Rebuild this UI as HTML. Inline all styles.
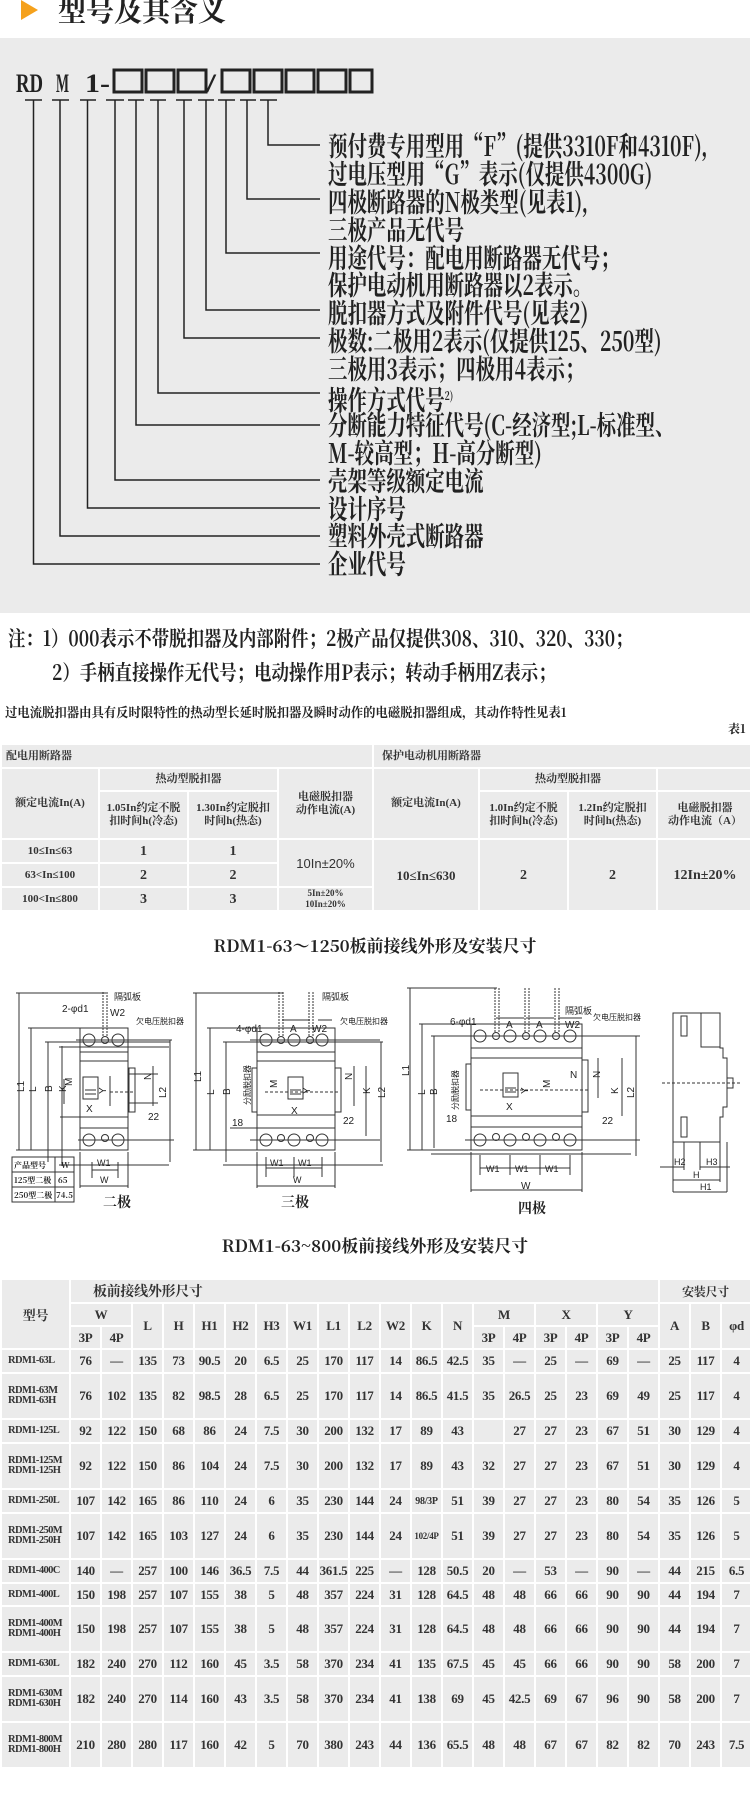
<!DOCTYPE html>
<html><head><meta charset="utf-8">
<style>
*{margin:0;padding:0;box-sizing:border-box}
body{width:750px;height:1816px;position:relative;background:#fff;overflow:hidden;font-family:"Liberation Serif","Noto Serif CJK SC",serif;color:#222}
.abs{position:absolute}
.cond{transform-origin:left top;white-space:nowrap}
.desc div{height:27.9px;line-height:27.9px}
table{border-collapse:collapse;position:absolute;left:0;table-layout:fixed}
td{background:#ebebeb;border:2px solid #fff;text-align:center;vertical-align:middle;font-weight:bold;padding:0;overflow:hidden}
.t1 td{font-size:11px;line-height:13px;color:#333}
.t2 td{font-size:13px;color:#333;letter-spacing:-0.3px}
.t2 td.m{font-size:10.5px;line-height:10px;text-align:left;padding-left:6px;letter-spacing:-0.6px}
</style></head><body>
<!-- header -->
<div class="abs" style="left:21px;top:0;width:0;height:0;border-left:17px solid #f5a11c;border-top:10px solid transparent;border-bottom:10px solid transparent;top:0"></div>
<div class="abs" style="left:58px;top:-10px;font:bold 28px 'Noto Serif CJK SC',serif;color:#222">型号及其含义</div>
<div class="abs" style="left:0;top:38px;width:750px;height:575px;background:#ebebeb"></div>

<!-- code line -->
<svg class="abs" style="left:0;top:0" width="750" height="613">
<g font-family="Liberation Serif" font-weight="bold" font-size="26" fill="#222">
<text x="16" y="92" textLength="27" lengthAdjust="spacingAndGlyphs">RD</text>
<text x="56" y="92" textLength="13" lengthAdjust="spacingAndGlyphs">M</text>
<text x="85" y="92" textLength="25" lengthAdjust="spacingAndGlyphs">1-</text>
<text x="206" y="92" textLength="10" lengthAdjust="spacingAndGlyphs">/</text>
</g>
<g fill="none" stroke="#222" stroke-width="3">
<rect x="114" y="70" width="28" height="22"/><rect x="146" y="70" width="28" height="22"/><rect x="178" y="70" width="28" height="22"/>
<rect x="222" y="70" width="28" height="22"/><rect x="254" y="70" width="28" height="22"/><rect x="286" y="70" width="28" height="22"/><rect x="318" y="70" width="28" height="22"/><rect x="350" y="70" width="22" height="22"/>
</g>
<g stroke="#222" stroke-width="1.5" fill="none">
<path d="M25 100h17M52 100h17M80 100h16M106 100h18M128 100h16M150 100h16M176 100h16M198 100h16M218 100h17M240 100h16M260 100h17"/>
<path d="M268 100V145H320M247 100V199H320M226 100V253H320M206 100V310H320M184 100V338H320M158 100V393H320M136 100V425H320M115 100V480H320M87.5 100V508H320M60 100V536H320M33.5 100V564H320"/>
</g>
</svg>
<div class="abs cond desc" style="left:328px;top:131px;font:bold 27px 'Noto Serif CJK SC',serif;color:#222;transform:scaleX(0.72)">
<div>预付费专用型用“F”(提供3310F和4310F),</div>
<div>过电压型用“G”表示(仅提供4300G)</div>
<div>四极断路器的N极类型(见表1),</div>
<div>三极产品无代号</div>
<div>用途代号：配电用断路器无代号；</div>
<div>保护电动机用断路器以2表示。</div>
<div>脱扣器方式及附件代号(见表2)</div>
<div>极数:二极用2表示(仅提供125、250型)</div>
<div>三极用3表示；四极用4表示；</div>
<div>操作方式代号<sup style="font-size:12px">2)</sup></div>
<div>分断能力特征代号(C-经济型;L-标准型、</div>
<div>M-较高型；H-高分断型)</div>
<div>壳架等级额定电流</div>
<div>设计序号</div>
<div>塑料外壳式断路器</div>
<div>企业代号</div>
</div>

<!-- notes -->
<div class="abs cond" style="left:8px;top:623px;font:bold 21px 'Noto Serif CJK SC',serif;transform:scaleX(0.83)">注：1）000表示不带脱扣器及内部附件；2极产品仅提供308、310、320、330；</div>
<div class="abs cond" style="left:52px;top:657px;font:bold 21px 'Noto Serif CJK SC',serif;transform:scaleX(0.83)">2）手柄直接操作无代号；电动操作用P表示；转动手柄用Z表示；</div>
<div class="abs cond" style="left:5px;top:702px;font:bold 13px 'Noto Serif CJK SC',serif;transform:scaleX(0.95)">过电流脱扣器由具有反时限特性的热动型长延时脱扣器及瞬时动作的电磁脱扣器组成，其动作特性见表1</div>
<div class="abs" style="left:728px;top:720px;font:bold 12px 'Noto Serif CJK SC',serif">表1</div>

<table class="t1" style="top:743px;width:752px">
<colgroup><col style="width:98px"><col style="width:89px"><col style="width:90px"><col style="width:95px"><col style="width:106px"><col style="width:89px"><col style="width:89px"><col style="width:96px"></colgroup>
<tr style="height:24px"><td colspan="4" style="text-align:left;padding-left:4px">配电用断路器</td><td colspan="4" style="text-align:left;padding-left:8px">保护电动机用断路器</td></tr>
<tr style="height:23px"><td rowspan="2">额定电流In(A)</td><td colspan="2">热动型脱扣器</td><td rowspan="2">电磁脱扣器<br>动作电流(A)</td><td rowspan="2">额定电流In(A)</td><td colspan="2">热动型脱扣器</td><td></td></tr>
<tr style="height:48px"><td>1.05In约定不脱<br>扣时间h(冷态)</td><td>1.30In约定脱扣<br>时间h(热态)</td><td>1.0In约定不脱<br>扣时间h(冷态)</td><td>1.2In约定脱扣<br>时间h(热态)</td><td>电磁脱扣器<br>动作电流（A）</td></tr>
<tr style="height:24px"><td>10≤In≤63</td><td style="font-size:14px">1</td><td style="font-size:14px">1</td><td rowspan="2" style="font:13px 'Liberation Sans',sans-serif">10In±20%</td><td rowspan="3" style="font-size:13px">10≤In≤630</td><td rowspan="3" style="font-size:14px">2</td><td rowspan="3" style="font-size:14px">2</td><td rowspan="3" style="font-size:14px">12In±20%</td></tr>
<tr style="height:24px"><td>63&lt;In≤100</td><td style="font-size:14px">2</td><td style="font-size:14px">2</td></tr>
<tr style="height:24px"><td>100&lt;In≤800</td><td style="font-size:14px">3</td><td style="font-size:14px">3</td><td style="font-size:9px;line-height:11px">5In±20%<br>10In±20%</td></tr>
</table>

<div class="abs" style="left:0;width:750px;top:932px;text-align:center;font:bold 17px 'Noto Serif CJK SC',serif">RDM1-63～1250板前接线外形及安装尺寸</div>

<!-- drawings -->
<svg class="abs" style="left:0;top:0" width="750" height="1240" font-family="Liberation Sans,Noto Sans CJK SC,sans-serif" font-size="10" fill="#222">
<g stroke="#333" stroke-width="1" fill="none">
<!-- 2 pole -->
<rect x="80" y="1028" width="48" height="122"/>
<path d="M80 1052h48M80 1061h48M80 1117h48M80 1128h48"/>
<circle cx="89" cy="1040" r="6"/><circle cx="118" cy="1040" r="6"/><circle cx="105" cy="1040" r="3.5"/>
<circle cx="89" cy="1140" r="6"/><circle cx="118" cy="1140" r="6"/><circle cx="105" cy="1138" r="3.5"/>
<rect x="83" y="1077" width="15" height="22"/><path d="M85 1090h11M85 1094h11"/>
<rect x="129" y="1068" width="6" height="44"/>
<path d="M103 992v44M107 992v44" stroke-dasharray="2,1"/>
<path d="M19 993v157M31 1028v122M48 1042v120M62 1046v120M170 1040v122M153 1066v40M16 993h90M28 1028h52M45 1042h125M59 1047h110M59 1165h110M16 1150h64M76 1040h96M78 1140h96M60 1117h20M64 1104v-25M110 1076v30M128 1074h30M128 1103h30M92 1162v16M118 1162v16M92 1170h26M80 1152v36M128 1152v36M80 1186h48"/>
<path d="M110 1092h25" stroke-dasharray="3,2"/>
<!-- 3 pole -->
<rect x="257" y="1028" width="78" height="122"/>
<path d="M257 1052h78M257 1061h78M257 1115h78M257 1128h78"/>
<circle cx="266" cy="1040" r="6"/><circle cx="294" cy="1040" r="6"/><circle cx="322" cy="1040" r="6"/><circle cx="281" cy="1040" r="3.5"/><circle cx="310" cy="1040" r="3.5"/>
<circle cx="266" cy="1140" r="6"/><circle cx="294" cy="1140" r="6"/><circle cx="322" cy="1140" r="6"/><circle cx="281" cy="1138" r="3.5"/><circle cx="310" cy="1138" r="3.5"/>
<rect x="288" y="1077" width="15" height="22"/><path d="M290 1090h11M290 1094h11"/>
<rect x="335" y="1068" width="6" height="44"/><rect x="252" y="1068" width="5" height="44"/>
<path d="M279 992v44M283 992v44M309 992v44M313 992v44" stroke-dasharray="2,1"/>
<path d="M196 993v157M210 1028v122M226 1042v120M193 993h90M207 1028h50M223 1042h160M223 1165h160M193 1150h64M250 1040h130M250 1140h130M381 1042v120M366 1066v70M354 1066v40M282 1020h28M318 1020h14M266 1157v20M294 1157v20M322 1157v20M266 1168h56M257 1152v36M335 1152v36M257 1186h78M230 1128h27"/>
<path d="M265 1092h75" stroke-dasharray="3,2"/>
<!-- 4 pole -->
<rect x="471" y="1024" width="111" height="126"/>
<path d="M471 1048h111M471 1058h111M471 1116h111M471 1127h111"/>
<circle cx="480" cy="1036" r="6"/><circle cx="510" cy="1036" r="6"/><circle cx="540" cy="1036" r="6"/><circle cx="570" cy="1036" r="6"/>
<circle cx="496" cy="1036" r="3.5"/><circle cx="526" cy="1036" r="3.5"/><circle cx="556" cy="1036" r="3.5"/>
<circle cx="480" cy="1140" r="6"/><circle cx="510" cy="1140" r="6"/><circle cx="540" cy="1140" r="6"/><circle cx="570" cy="1140" r="6"/>
<circle cx="496" cy="1137" r="3.5"/><circle cx="526" cy="1137" r="3.5"/><circle cx="556" cy="1137" r="3.5"/>
<rect x="503" y="1073" width="15" height="24"/><path d="M505 1088h11M505 1092h11"/>
<rect x="582" y="1060" width="6" height="52"/><rect x="466" y="1064" width="5" height="46"/>
<path d="M495 988v44M499 988v44M525 988v44M529 988v44M555 988v44M559 988v44" stroke-dasharray="2,1"/>
<path d="M410 988v162M422 1024v126M434 1036v112M407 988h90M419 1024h52M431 1036h200M431 1154h200M407 1150h64M465 1036h175M465 1140h175M636 1036v120M622 1058v58M598 1058v40M496 1018h28M526 1018h28M558 1018h24M480 1155v20M510 1155v20M540 1155v20M570 1155v20M480 1168h90M471 1152v40M582 1152v40M471 1190h111"/>
<path d="M480 1090h110" stroke-dasharray="3,2"/>
<!-- side -->
<path d="M673 1013h47v35h3v10h4v49h-4v10h-3v25h-47zM701 1013v34h19M727 1078h6v10h-6"/>
<rect x="681" y="1016" width="6" height="20"/><rect x="681" y="1117" width="6" height="20"/>
<path d="M662 1083h80" stroke-dasharray="3,2"/>
<path d="M673 1142v50M684 1142v28M700 1142v28M720 1142v40M727 1142v50M660 1167h24M700 1167h30M673 1180h47M673 1192h54"/>
</g>
<g font-size="10">
<text x="62" y="1012">2-φd1</text><text x="114" y="1000" font-size="9">隔弧板</text><text x="110" y="1016">W2</text><text x="136" y="1024" font-size="8">欠电压脱扣器</text>
<text x="148" y="1120">22</text><text x="97" y="1166" font-size="9">W1</text><text x="100" y="1183" font-size="9">W</text><text x="86" y="1112">X</text>
<text x="106" y="1094" transform="rotate(-90 106 1094)">Y</text><text x="151" y="1080" transform="rotate(-90 151 1080)">N</text>
<text x="24" y="1092" transform="rotate(-90 24 1092)">L1</text><text x="36" y="1092" transform="rotate(-90 36 1092)">L</text><text x="52" y="1092" transform="rotate(-90 52 1092)">B</text><text x="66" y="1092" transform="rotate(-90 66 1092)">K</text><text x="72" y="1086" transform="rotate(-90 72 1086)">M</text><text x="166" y="1098" transform="rotate(-90 166 1098)">L2</text>
<text x="236" y="1032">4-φd1</text><text x="290" y="1032">A</text><text x="312" y="1032">W2</text><text x="322" y="1000" font-size="9">隔弧板</text><text x="340" y="1024" font-size="8">欠电压脱扣器</text>
<text x="232" y="1126">18</text><text x="343" y="1124">22</text><text x="270" y="1166" font-size="9">W1</text><text x="298" y="1166" font-size="9">W1</text><text x="293" y="1183" font-size="9">W</text><text x="291" y="1114">X</text>
<text x="201" y="1082" transform="rotate(-90 201 1082)">L1</text><text x="214" y="1095" transform="rotate(-90 214 1095)">L</text><text x="230" y="1095" transform="rotate(-90 230 1095)">B</text><text x="250" y="1105" font-size="8" transform="rotate(-90 250 1105)">分励脱扣器</text>
<text x="277" y="1088" transform="rotate(-90 277 1088)">M</text><text x="310" y="1094" transform="rotate(-90 310 1094)">Y</text><text x="352" y="1080" transform="rotate(-90 352 1080)">N</text><text x="370" y="1094" transform="rotate(-90 370 1094)">K</text><text x="385" y="1098" transform="rotate(-90 385 1098)">L2</text>
<text x="450" y="1025">6-φd1</text><text x="506" y="1028">A</text><text x="536" y="1028">A</text><text x="565" y="1028">W2</text><text x="565" y="1014" font-size="9">隔弧板</text><text x="593" y="1020" font-size="8">欠电压脱扣器</text>
<text x="446" y="1122">18</text><text x="602" y="1124">22</text><text x="486" y="1172" font-size="9">W1</text><text x="515" y="1172" font-size="9">W1</text><text x="545" y="1172" font-size="9">W1</text><text x="521" y="1189">W</text><text x="506" y="1110">X</text>
<text x="409" y="1076" transform="rotate(-90 409 1076)">L1</text><text x="425" y="1095" transform="rotate(-90 425 1095)">L</text><text x="437" y="1095" transform="rotate(-90 437 1095)">B</text><text x="458" y="1110" font-size="8" transform="rotate(-90 458 1110)">分励脱扣器</text>
<text x="550" y="1088" transform="rotate(-90 550 1088)">M</text><text x="528" y="1094" transform="rotate(-90 528 1094)">Y</text><text x="570" y="1078">N</text><text x="600" y="1078" transform="rotate(-90 600 1078)">N</text><text x="618" y="1094" transform="rotate(-90 618 1094)">K</text><text x="634" y="1098" transform="rotate(-90 634 1098)">L2</text>
<text x="674" y="1165" font-size="9">H2</text><text x="706" y="1165" font-size="9">H3</text><text x="693" y="1178" font-size="9">H</text><text x="700" y="1190" font-size="9">H1</text>
</g>
<g font-family="Noto Serif CJK SC,serif" font-weight="bold">
<text x="103" y="1207" font-size="14">二极</text><text x="281" y="1207" font-size="14">三极</text><text x="518" y="1213" font-size="14">四极</text>
</g>
<g stroke="#333" stroke-width="1" fill="none"><rect x="12" y="1157" width="62" height="45"/><path d="M12 1172h62M12 1187h62M55 1157v45"/></g>
<g font-size="8" font-weight="bold" font-family="Noto Serif CJK SC,serif"><text x="14" y="1168">产品型号</text><text x="61" y="1168">W</text><text x="14" y="1183">125型二极</text><text x="58" y="1183">65</text><text x="14" y="1198">250型二极</text><text x="56" y="1198">74.5</text></g>
</svg>

<div class="abs" style="left:0;width:750px;top:1232px;text-align:center;font:bold 17px 'Noto Serif CJK SC',serif">RDM1-63~800板前接线外形及安装尺寸</div>

<table class="t2" style="top:1278px;width:750px">
<colgroup><col style="width:69px"><col style="width:31px"><col style="width:31px"><col style="width:31px"><col style="width:31px"><col style="width:31px"><col style="width:31px"><col style="width:31px"><col style="width:31px"><col style="width:31px"><col style="width:31px"><col style="width:31px"><col style="width:31px"><col style="width:31px"><col style="width:31px"><col style="width:31px"><col style="width:31px"><col style="width:31px"><col style="width:31px"><col style="width:31px"><col style="width:31px"><col style="width:31px"><col style="width:31px"></colgroup>
<tr style="height:24px"><td rowspan="3">型号</td><td colspan="19" style="text-align:left;padding-left:22px;font-size:14px">板前接线外形尺寸</td><td colspan="3" style="font-size:12px">安装尺寸</td></tr>
<tr style="height:23px"><td colspan="2">W</td><td rowspan="2">L</td><td rowspan="2">H</td><td rowspan="2">H1</td><td rowspan="2">H2</td><td rowspan="2">H3</td><td rowspan="2">W1</td><td rowspan="2">L1</td><td rowspan="2">L2</td><td rowspan="2">W2</td><td rowspan="2">K</td><td rowspan="2">N</td><td colspan="2">M</td><td colspan="2">X</td><td colspan="2">Y</td><td rowspan="2">A</td><td rowspan="2">B</td><td rowspan="2">φd</td></tr>
<tr style="height:23px"><td>3P</td><td>4P</td><td>3P</td><td>4P</td><td>3P</td><td>4P</td><td>3P</td><td>4P</td></tr>
<tr style="height:24px"><td class="m">RDM1-63L</td><td>76</td><td>—</td><td>135</td><td>73</td><td>90.5</td><td>20</td><td>6.5</td><td>25</td><td>170</td><td>117</td><td>14</td><td>86.5</td><td>42.5</td><td>35</td><td>—</td><td>25</td><td>—</td><td>69</td><td>—</td><td>25</td><td>117</td><td>4</td></tr>
<tr style="height:46px"><td class="m">RDM1-63M<br>RDM1-63H</td><td>76</td><td>102</td><td>135</td><td>82</td><td>98.5</td><td>28</td><td>6.5</td><td>25</td><td>170</td><td>117</td><td>14</td><td>86.5</td><td>41.5</td><td>35</td><td>26.5</td><td>25</td><td>23</td><td>69</td><td>49</td><td>25</td><td>117</td><td>4</td></tr>
<tr style="height:24px"><td class="m">RDM1-125L</td><td>92</td><td>122</td><td>150</td><td>68</td><td>86</td><td>24</td><td>7.5</td><td>30</td><td>200</td><td>132</td><td>17</td><td>89</td><td>43</td><td></td><td>27</td><td>27</td><td>23</td><td>67</td><td>51</td><td>30</td><td>129</td><td>4</td></tr>
<tr style="height:46px"><td class="m">RDM1-125M<br>RDM1-125H</td><td>92</td><td>122</td><td>150</td><td>86</td><td>104</td><td>24</td><td>7.5</td><td>30</td><td>200</td><td>132</td><td>17</td><td>89</td><td>43</td><td>32</td><td>27</td><td>27</td><td>23</td><td>67</td><td>51</td><td>30</td><td>129</td><td>4</td></tr>
<tr style="height:24px"><td class="m">RDM1-250L</td><td>107</td><td>142</td><td>165</td><td>86</td><td>110</td><td>24</td><td>6</td><td>35</td><td>230</td><td>144</td><td>24</td><td style="font-size:10px">98/3P</td><td>51</td><td>39</td><td>27</td><td>27</td><td>23</td><td>80</td><td>54</td><td>35</td><td>126</td><td>5</td></tr>
<tr style="height:46px"><td class="m">RDM1-250M<br>RDM1-250H</td><td>107</td><td>142</td><td>165</td><td>103</td><td>127</td><td>24</td><td>6</td><td>35</td><td>230</td><td>144</td><td>24</td><td style="font-size:9px">102/4P</td><td>51</td><td>39</td><td>27</td><td>27</td><td>23</td><td>80</td><td>54</td><td>35</td><td>126</td><td>5</td></tr>
<tr style="height:24px"><td class="m">RDM1-400C</td><td>140</td><td>—</td><td>257</td><td>100</td><td>146</td><td>36.5</td><td>7.5</td><td>44</td><td>361.5</td><td>225</td><td>—</td><td>128</td><td>50.5</td><td>20</td><td>—</td><td>53</td><td>—</td><td>90</td><td>—</td><td>44</td><td>215</td><td>6.5</td></tr>
<tr style="height:23px"><td class="m">RDM1-400L</td><td>150</td><td>198</td><td>257</td><td>107</td><td>155</td><td>38</td><td>5</td><td>48</td><td>357</td><td>224</td><td>31</td><td>128</td><td>64.5</td><td>48</td><td>48</td><td>66</td><td>66</td><td>90</td><td>90</td><td>44</td><td>194</td><td>7</td></tr>
<tr style="height:46px"><td class="m">RDM1-400M<br>RDM1-400H</td><td>150</td><td>198</td><td>257</td><td>107</td><td>155</td><td>38</td><td>5</td><td>48</td><td>357</td><td>224</td><td>31</td><td>128</td><td>64.5</td><td>48</td><td>48</td><td>66</td><td>66</td><td>90</td><td>90</td><td>44</td><td>194</td><td>7</td></tr>
<tr style="height:24px"><td class="m">RDM1-630L</td><td>182</td><td>240</td><td>270</td><td>112</td><td>160</td><td>45</td><td>3.5</td><td>58</td><td>370</td><td>234</td><td>41</td><td>135</td><td>67.5</td><td>45</td><td>45</td><td>66</td><td>66</td><td>90</td><td>90</td><td>58</td><td>200</td><td>7</td></tr>
<tr style="height:46px"><td class="m">RDM1-630M<br>RDM1-630H</td><td>182</td><td>240</td><td>270</td><td>114</td><td>160</td><td>43</td><td>3.5</td><td>58</td><td>370</td><td>234</td><td>41</td><td>138</td><td>69</td><td>45</td><td>42.5</td><td>69</td><td>67</td><td>96</td><td>90</td><td>58</td><td>200</td><td>7</td></tr>
<tr style="height:46px"><td class="m">RDM1-800M<br>RDM1-800H</td><td>210</td><td>280</td><td>280</td><td>117</td><td>160</td><td>42</td><td>5</td><td>70</td><td>380</td><td>243</td><td>44</td><td>136</td><td>65.5</td><td>48</td><td>48</td><td>67</td><td>67</td><td>82</td><td>82</td><td>70</td><td>243</td><td>7.5</td></tr>
</table>
</body></html>
